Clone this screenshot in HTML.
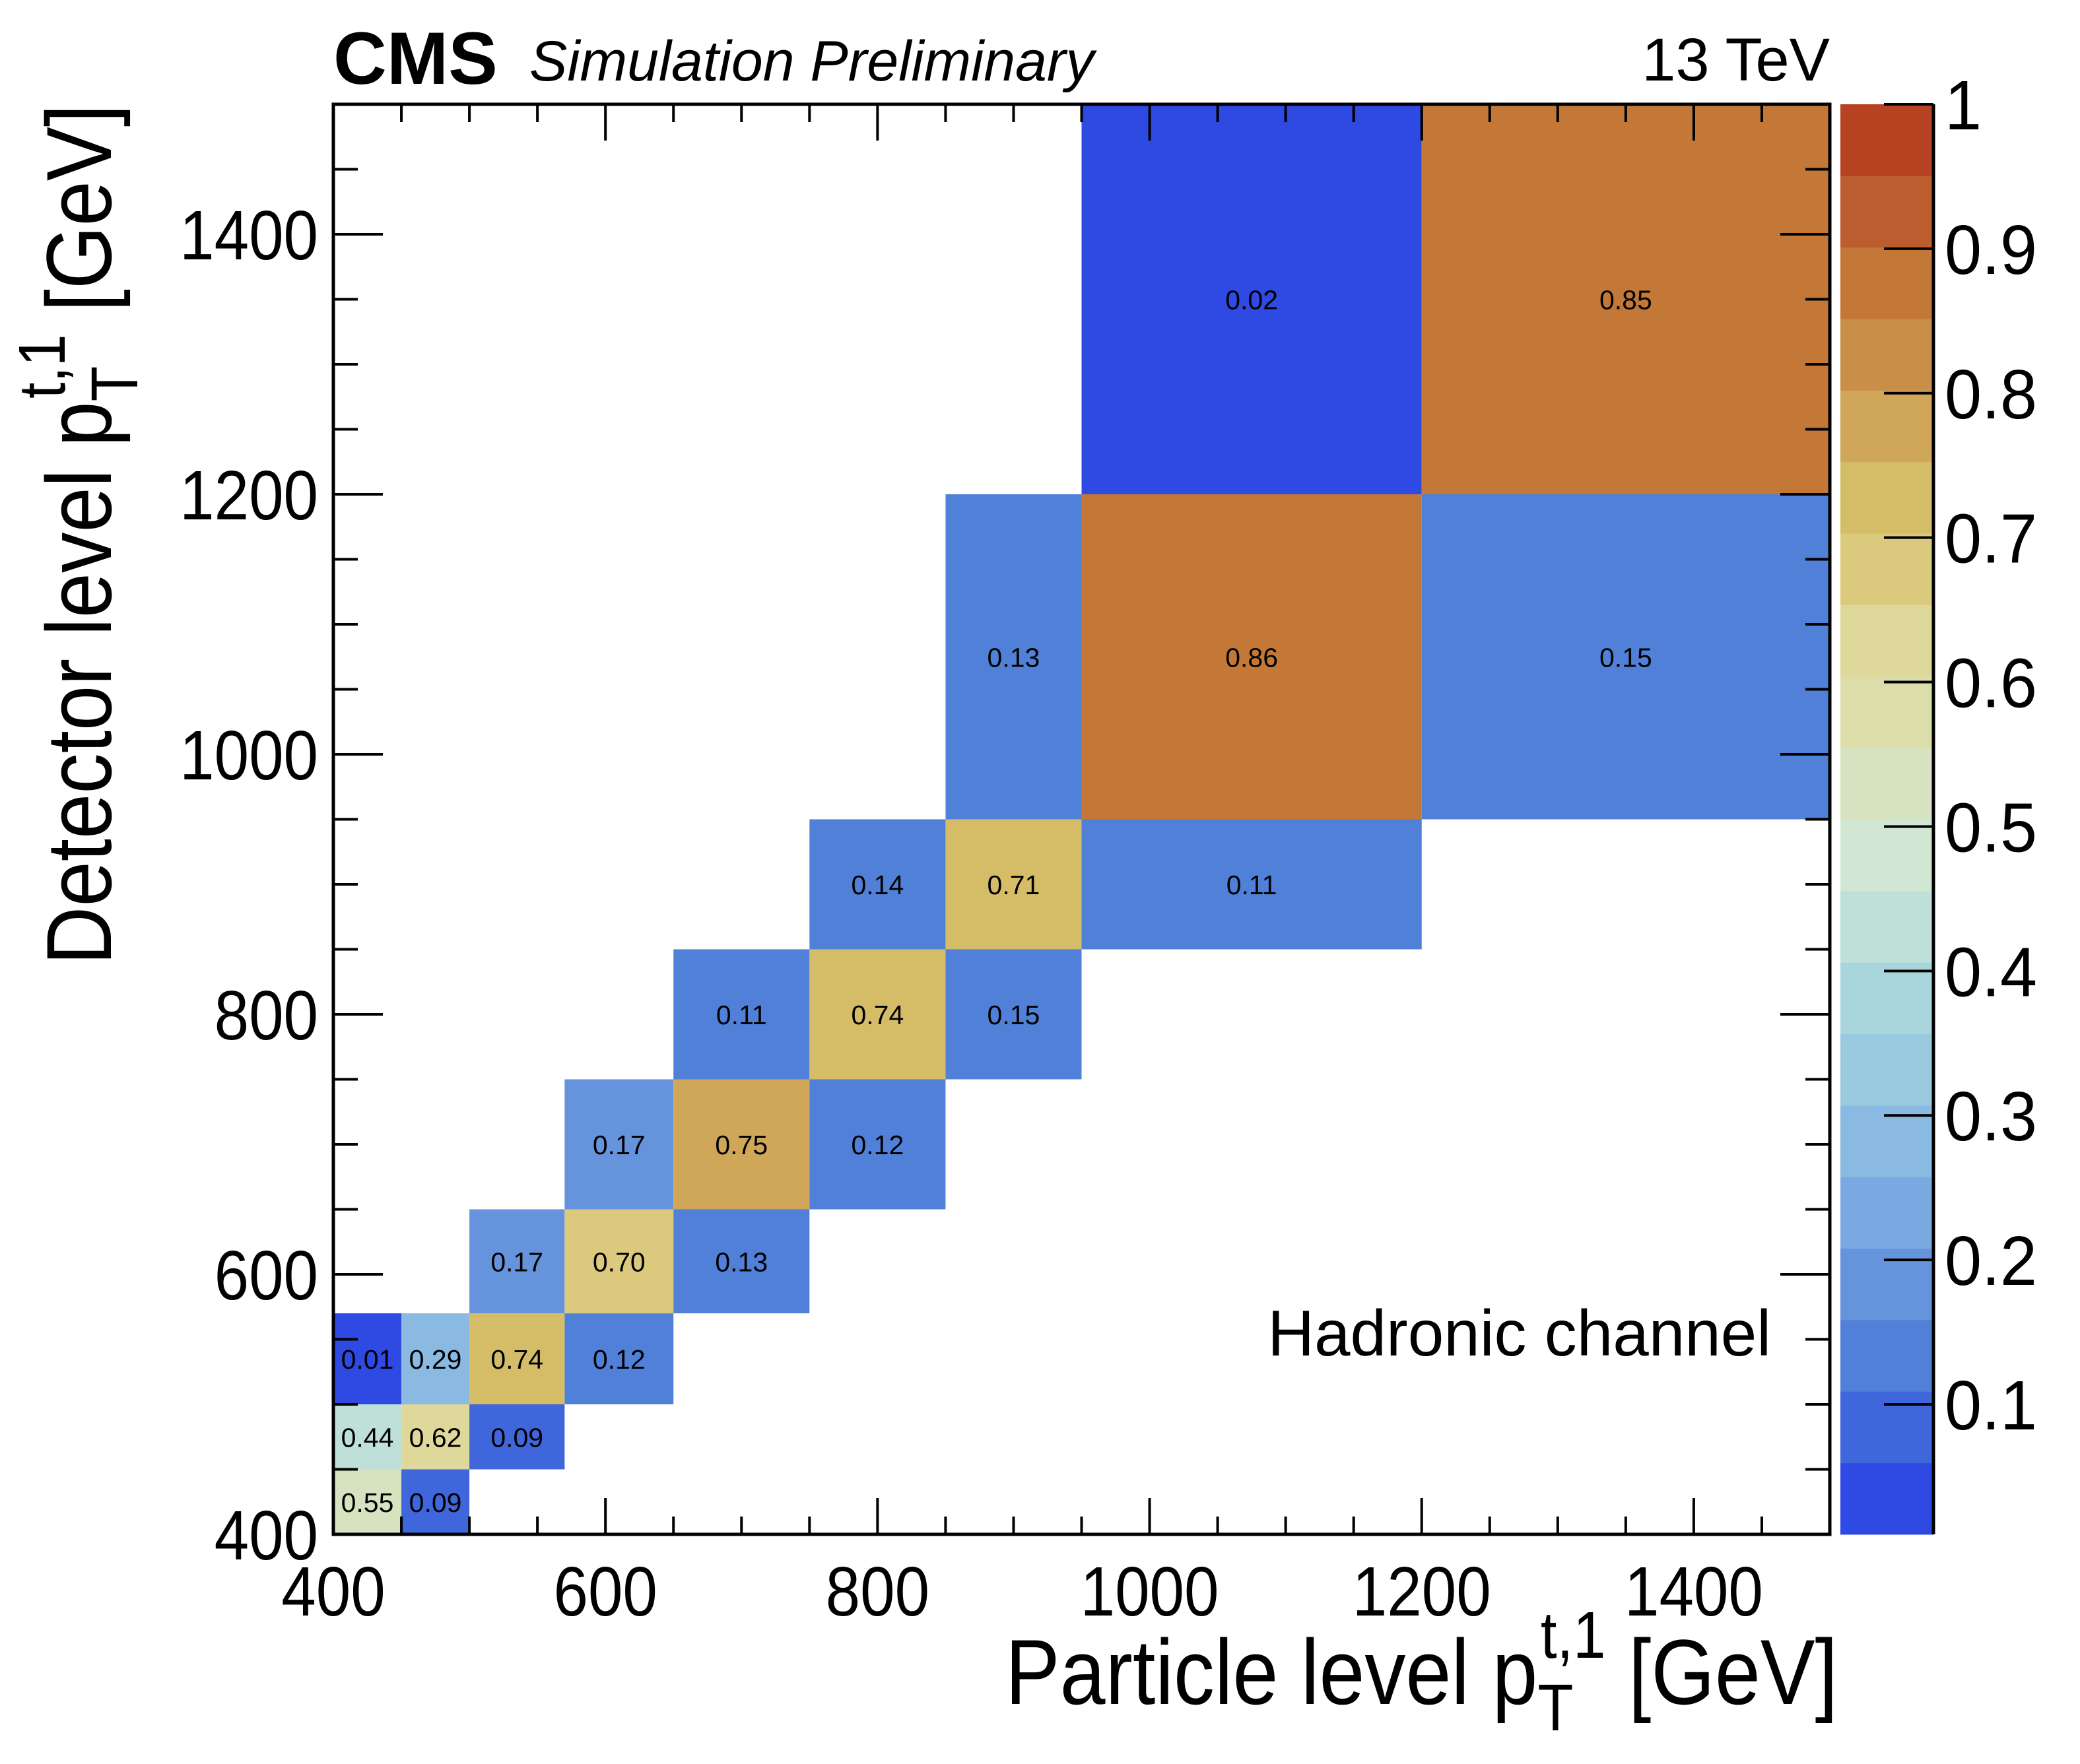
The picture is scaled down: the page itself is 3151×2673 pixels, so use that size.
<!DOCTYPE html>
<html><head><meta charset="utf-8"><style>
html,body{margin:0;padding:0;background:#fff}
svg{display:block;font-family:"Liberation Sans",Arial,sans-serif}
</style></head><body>
<svg id="c" width="3151" height="2673" viewBox="0 0 3151 2673" xmlns="http://www.w3.org/2000/svg">
<g id="cells"></g>
<g id="axes"></g>
<text x="505" y="127" font-size="112" font-weight="bold">CMS</text>
<text x="802" y="122" font-size="86" font-style="italic">Simulation Preliminary</text>
<text x="2772" y="122" font-size="92" text-anchor="end">13 TeV</text>
<text x="2683" y="2054" font-size="98" text-anchor="end">Hadronic channel</text>
<g transform="translate(2784,2582) scale(0.886,1)">
<text x="0" y="0" font-size="140" text-anchor="end">Particle level p<tspan font-size="100" dy="40">T</tspan><tspan font-size="100" dx="-56" dy="-110">t,1</tspan><tspan dy="70"> [GeV]</tspan></text>
</g>
<g transform="translate(168,158) rotate(-90) scale(0.878,1)">
<text x="0" y="0" font-size="140" text-anchor="end">Detector level p<tspan font-size="100" dy="40">T</tspan><tspan font-size="100" dx="-56" dy="-110">t,1</tspan><tspan dy="70"> [GeV]</tspan></text>
</g>
</svg>
<script>
const xEdges = [400,450,500,570,650,750,850,950,1200,1500];
const yEdges = [400,450,500,570,650,750,850,950,1200,1500];
const cellX = [0,1, 0,1,2, 0,1,2,3, 2,3,4, 3,4,5, 4,5,6, 5,6,7, 6,7,8, 7,8];
const cellY = [0,0, 1,1,1, 2,2,2,2, 3,3,3, 4,4,4, 5,5,5, 6,6,6, 7,7,7, 8,8];
const cellV = [0.55,0.09, 0.44,0.62,0.09, 0.01,0.29,0.74,0.12, 0.17,0.70,0.13, 0.17,0.754,0.12, 0.11,0.74,0.15, 0.14,0.71,0.11, 0.13,0.86,0.15, 0.02,0.853];
const xTicks = [400,600,800,1000,1200,1400];
const yTicks = [400,600,800,1000,1200,1400];
const zTicks = [0.1,0.2,0.3,0.4,0.5,0.6,0.7,0.8,0.9,1];
const palette = ["#2f49e3","#4066dc","#5080d8","#6694dc","#7aa9e2","#8ab9e1","#99cadf","#a9d6dc","#bee0d9","#d2e6d4","#d6e2c0","#dcdeaa","#dfd89b","#dbca7e","#d5bd68","#d0a758","#c98e48","#c47838","#bb5d2f","#b64222"];
const zMin = 0.01, zMax = 1;

const L=505,R=2772,T=158,B=2325, PL=2788, PR=2929;
const X = v => L + (v-400)/(1500-400)*(R-L);
const Y = v => B - (v-400)/(1500-400)*(B-T);
const Z = v => B - (v-zMin)/(zMax-zMin)*(B-T);
const NS="http://www.w3.org/2000/svg";
function mk(tag, attrs, parent){const e=document.createElementNS(NS,tag);for(const k in attrs)e.setAttribute(k,attrs[k]);parent.appendChild(e);return e;}
function colorOf(v){let i=Math.floor((v-zMin)/(zMax-zMin)*palette.length);i=Math.max(0,Math.min(palette.length-1,i));return palette[i];}
const cells=document.getElementById('cells'), axes=document.getElementById('axes');
for(let i=0;i<cellV.length;i++){
  const x0=X(xEdges[cellX[i]]), x1=X(xEdges[cellX[i]+1]), y0=Y(yEdges[cellY[i]+1]), y1=Y(yEdges[cellY[i]]);
  const r=mk('rect',{x:x0,y:y0,width:x1-x0,height:y1-y0,fill:colorOf(cellV[i])},cells);
  
  
  const t=mk('text',{x:(x0+x1)/2,y:(y0+y1)/2+15,'font-size':41,'text-anchor':'middle'},cells);
  t.textContent=cellV[i].toFixed(2);
  
  
}
const fr=mk('rect',{x:L,y:T,width:R-L,height:B-T,fill:'none',stroke:'#000','stroke-width':5},axes);


for(let v=400;v<=1500;v+=50){
  const maj=(v%200===0);
  const lx=maj?55:27, ly=maj?75:37;
  mk('line',{x1:X(v),x2:X(v),y1:B,y2:B-lx,stroke:'#000','stroke-width':4},axes);
  mk('line',{x1:X(v),x2:X(v),y1:T,y2:T+lx,stroke:'#000','stroke-width':4},axes);
  mk('line',{x1:L,x2:L+ly,y1:Y(v),y2:Y(v),stroke:'#000','stroke-width':4},axes);
  mk('line',{x1:R,x2:R-ly,y1:Y(v),y2:Y(v),stroke:'#000','stroke-width':4},axes);
}
for(const v of xTicks){
  const t=mk('text',{transform:'translate('+X(v)+',2448) scale(0.89,1)','font-size':106,'text-anchor':'middle'},axes);
  t.textContent=v;
  
  
}
for(const v of yTicks){
  const t=mk('text',{transform:'translate(482,'+(Y(v)+38)+') scale(0.89,1)','font-size':106,'text-anchor':'end'},axes);
  t.textContent=v;
  
  
}
const pg=mk('g',{},axes);


for(let i=0;i<palette.length;i++){
  const v0=zMin+i*(zMax-zMin)/palette.length, v1=zMin+(i+1)*(zMax-zMin)/palette.length;
  mk('rect',{x:PL,y:Z(v1),width:PR-PL,height:Z(v0)-Z(v1)+0.5,fill:palette[i]},pg);
}
mk('line',{x1:PR,x2:PR,y1:T,y2:B,stroke:'#000','stroke-width':5},pg);
for(const v of zTicks){
  mk('line',{x1:PR,x2:PR-75,y1:Z(v),y2:Z(v),stroke:'#000','stroke-width':4},pg);
  const t=mk('text',{transform:'translate(2946,'+(Z(v)+38)+') scale(0.95,1)','font-size':106},pg);
  t.textContent=(v===1)?'1':v.toFixed(1);
  
  
}
</script>
</body></html>
